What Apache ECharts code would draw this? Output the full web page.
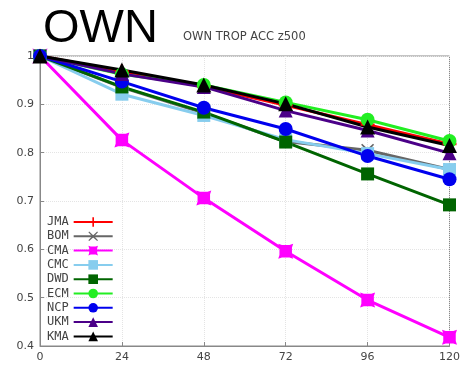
<!DOCTYPE html>
<html><head><meta charset="utf-8">
<script src="https://cdn.jsdelivr.net/npm/echarts@6/dist/echarts.min.js"></script>
<style>html,body{margin:0;padding:0;background:#fff}#c{width:463px;height:368px}</style>
</head><body><div id="c"></div>
<script>
const hours = [0, 24, 48, 72, 96, 120];
const xTicks = [0, 24, 48, 72, 96, 120];
const models = ['JMA','BOM','CMA','CMC','DWD','ECM','NCP','UKM','KMA'];
const JMA = [1, 0.968, 0.937, 0.898, 0.858, 0.818];
const BOM = [1, 0.935, 0.882, 0.823, 0.805, 0.765];
const CMA = [1, 0.826, 0.706, 0.596, 0.495, 0.418];
const CMC = [1, 0.921, 0.877, 0.827, 0.798, 0.765];
const DWD = [1, 0.936, 0.884, 0.822, 0.756, 0.692];
const ECM = [1, 0.962, 0.940, 0.904, 0.868, 0.824];
const NCP = [1, 0.947, 0.893, 0.849, 0.793, 0.745];
const UKM = [1, 0.963, 0.936, 0.887, 0.846, 0.799];
const KMA = [1, 0.971, 0.940, 0.901, 0.853, 0.815];
const values = {JMA, BOM, CMA, CMC, DWD, ECM, NCP, UKM, KMA};

const plusPath = 'path://M-1,-6 H1 V-1 H6 V1 H1 V6 H-1 V1 H-6 V-1 H-1 Z';
const xPath = 'path://M-5,-6 L0,-1.4 L5,-6 L6,-5 L1.4,0 L6,5 L5,6 L0,1.4 L-5,6 L-6,5 L-1.4,0 L-6,-5 Z';
const starSq = 'path://M-6,-6 L-3,-5 H3 L6,-6 L5,-3 V3 L6,6 L3,5 H-3 L-6,6 L-5,3 V-3 Z';
const styles = {
  JMA: {color:'#ff0000', symbol: plusPath, size: 14},
  BOM: {color:'#666666', symbol: xPath, size: 13},
  CMA: {color:'#ff00ff', symbol: starSq, size: 15},
  CMC: {color:'#87cdee', symbol: 'rect', size: 13},
  DWD: {color:'#006400', symbol: 'rect', size: 13},
  ECM: {color:'#22ee22', symbol: 'circle', size: 14},
  NCP: {color:'#0000ee', symbol: 'circle', size: 14},
  UKM: {color:'#4b0088', symbol: 'triangle', size: 14},
  KMA: {color:'#000000', symbol: 'triangle', size: 15}
};

const chart = echarts.init(document.getElementById('c'), null, {renderer:'canvas'});
chart.setOption({
  animation: false,
  backgroundColor: '#fff',
  title: [
    {text: 'OWN', left: 38, top: 1, textStyle: {fontFamily: 'Liberation Sans', fontSize: 47, fontWeight: 'normal', color: '#000'}},
    {text: 'OWN TROP ACC z500', left: 178, top: 26, textStyle: {fontFamily: 'DejaVu Sans', fontSize: 11.5, fontWeight: 'normal', color: '#444'}}
  ],
  grid: {left: 40, right: 12, top: 56, bottom: 22, show: true, borderColor: '#888', borderWidth: 1},
  legend: {
    orient: 'vertical', left: 42, top: 211, itemGap: 2.3, itemWidth: 39, itemHeight: 12, align: 'right',
    data: models,
    textStyle: {fontFamily: 'DejaVu Sans Mono', fontSize: 12, color: '#444', padding: [0, 0, 0, 0]}
  },
  xAxis: {
    type: 'value', min: 0, max: 120, interval: 24,
    axisLine: {lineStyle: {color: '#888'}},
    axisTick: {inside: true, length: 4, lineStyle: {color: '#888'}},
    axisLabel: {color: '#444', fontSize: 11, fontFamily: 'DejaVu Sans', margin: 6,
      formatter: v => xTicks.includes(v) ? String(v) : ''},
    splitLine: {show: true, lineStyle: {color: '#e4e4e4', type: 'dotted'}}
  },
  yAxis: {
    type: 'value', min: 0.4, max: 1, interval: 0.1,
    axisLine: {lineStyle: {color: '#888'}},
    axisTick: {inside: true, length: 4, lineStyle: {color: '#888'}},
    axisLabel: {color: '#444', fontSize: 11, fontFamily: 'DejaVu Sans', margin: 6,
      formatter: v => String(Math.round(v * 10) / 10)},
    splitLine: {show: true, lineStyle: {color: '#e4e4e4', type: 'dotted'}}
  },
  series: models.map(m => ({
    name: m, type: 'line',
    data: hours.map((h, i) => [h, values[m][i]]),
    symbol: styles[m].symbol, symbolSize: styles[m].size,
    itemStyle: {color: styles[m].color},
    lineStyle: {color: styles[m].color, width: 3},
    clip: false
  }))
});
</script></body></html>
